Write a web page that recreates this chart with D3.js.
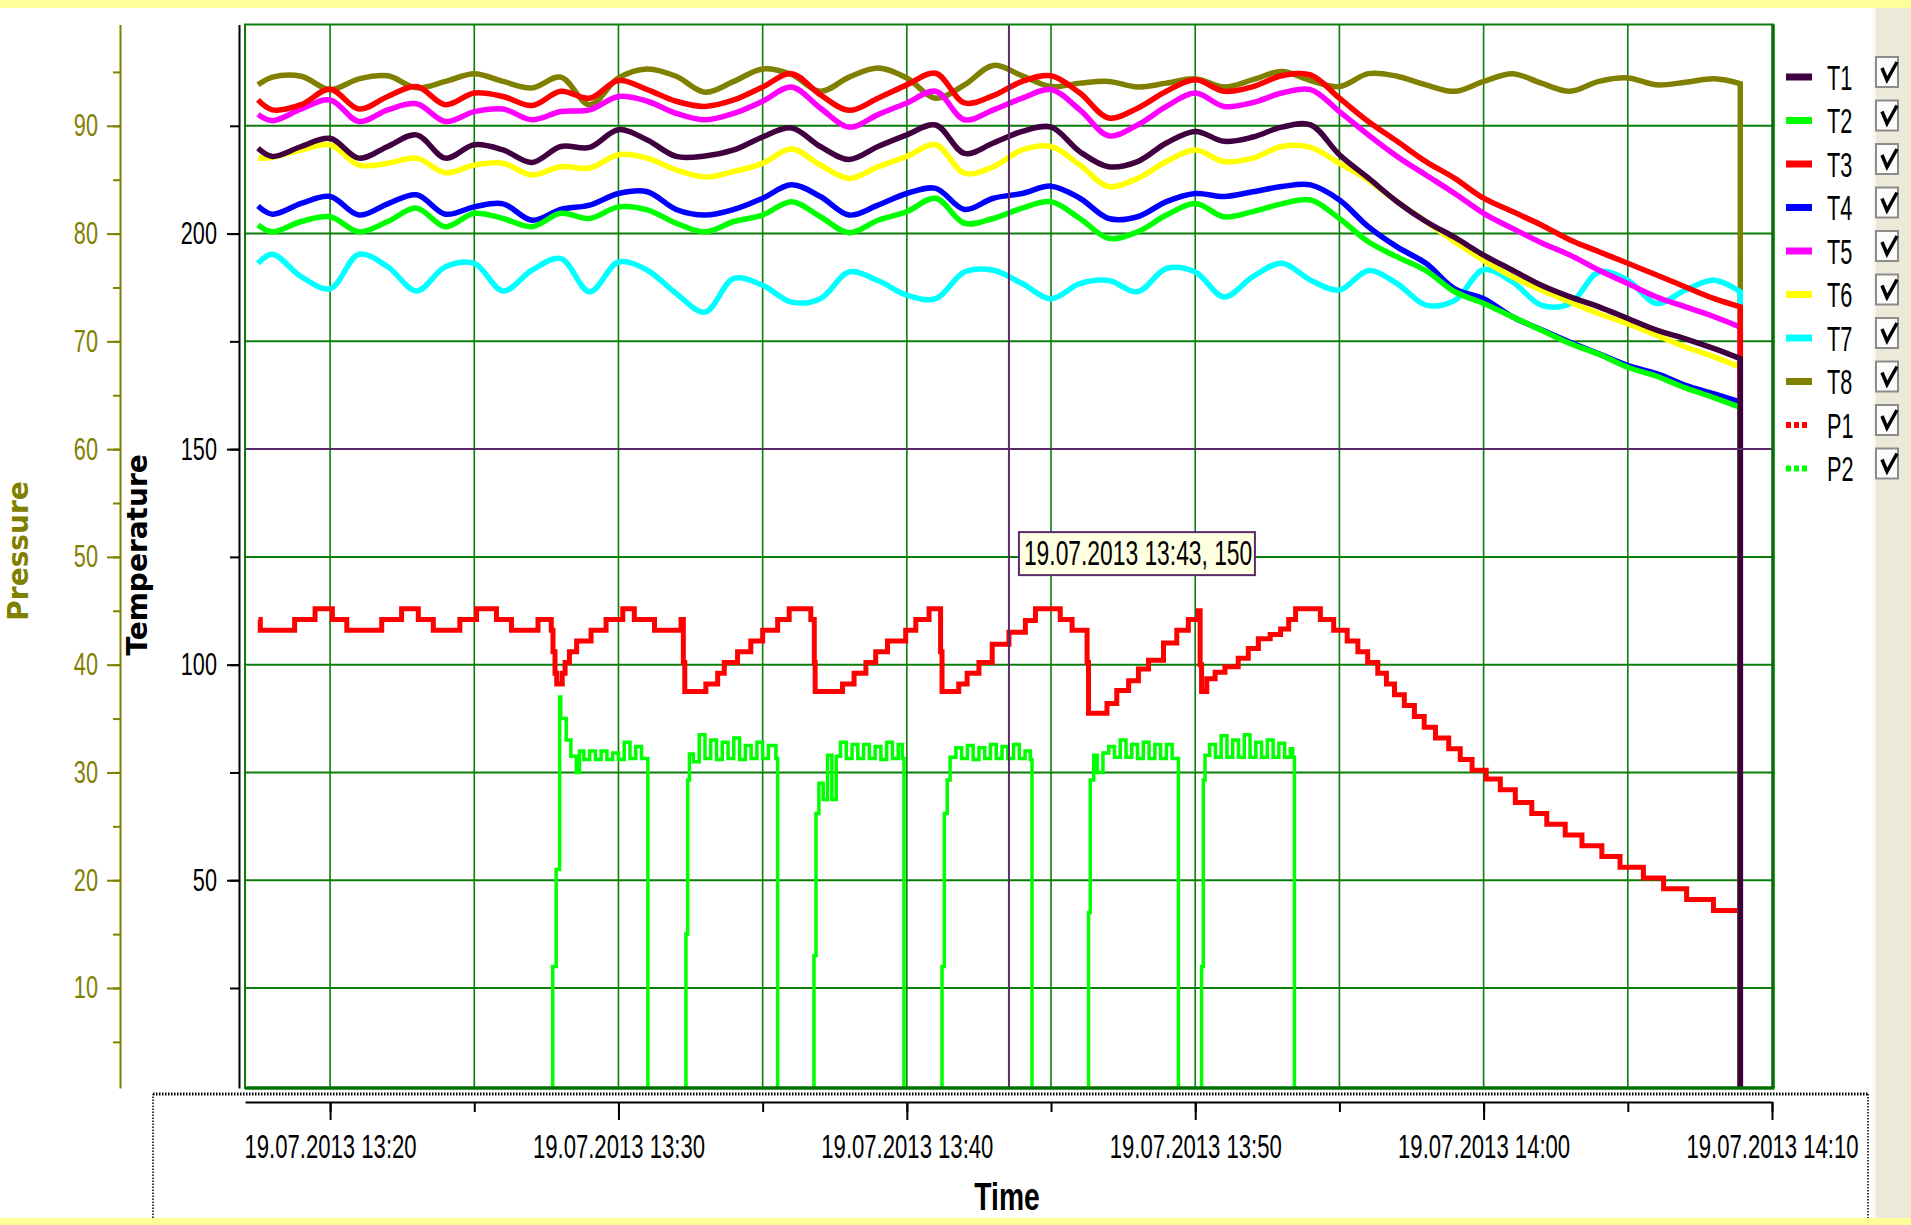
<!DOCTYPE html>
<html>
<head>
<meta charset="utf-8">
<script src="https://cdn.jsdelivr.net/npm/d3@7"></script>
<style>
  body { margin: 0; background: #ffffff; }
  svg { display: block; font-family: "Liberation Sans", Arial, sans-serif; }
</style>
</head>
<body>
<div id="chart"></div>
<script>
// Reading times, minutes after 13:00 (last time twice: every T line falls to 0 at the end)
var tempMinutes = [17.5, 18, 19, 20, 21, 22, 23, 24, 25, 26, 27, 28, 29, 30, 31, 32, 33, 34, 35,
  36, 37, 38, 39, 40, 41, 42, 43, 44, 45, 46, 47, 48, 49, 50, 51, 52,
  53, 54, 55, 56, 57, 58, 59, 60, 61, 62, 63, 64, 65, 66, 67, 68, 68.9, 68.9];

// Temperatures
var t1 = [219.8, 217.9, 220.2, 222.1, 217.5, 220.2, 222.9, 217.5, 220.6, 219.4, 216.5, 220.2, 220.0, 224.1, 221.7, 217.9, 218.0, 219.4, 222.4,
  224.5, 220.2, 217.2, 220.2, 222.9, 225.2, 218.6, 221.0, 223.7, 224.7, 219.0, 215.5, 216.7, 221.0, 223.7, 221.4, 222.4,
  224.7, 225.2, 218.3, 212.9, 207.4, 202.8, 199.1, 195.0, 191.5, 188.0, 185.3, 183.0, 180.3, 177.6, 175.6, 173.3, 171.0, 0];
var t2 = [202.0, 200.4, 202.8, 203.9, 200.4, 202.8, 205.9, 201.6, 204.7, 203.5, 201.6, 204.7, 203.5, 206.2, 205.5, 202.4, 200.4, 202.8, 204.3,
  207.4, 203.9, 200.2, 203.1, 205.1, 208.2, 202.4, 203.5, 205.9, 207.4, 203.5, 198.9, 200.4, 204.3, 207.0, 203.9, 205.1,
  206.9, 207.8, 203.5, 198.1, 194.6, 191.4, 186.5, 183.8, 180.7, 177.6, 174.5, 172.0, 169.0, 166.9, 164.2, 161.9, 159.7, 0];
var t3 = [231.0, 228.7, 229.9, 233.5, 228.9, 231.8, 234.1, 229.9, 232.6, 231.8, 229.7, 233.0, 231.4, 235.5, 233.4, 230.7, 229.5, 231.0, 234.0,
  237.1, 232.2, 228.6, 231.4, 234.5, 237.2, 230.3, 232.0, 235.3, 236.6, 232.6, 226.8, 229.1, 233.0, 235.7, 233.0, 234.1,
  236.6, 236.8, 231.4, 226.0, 221.4, 216.7, 212.8, 208.2, 205.1, 202.0, 198.5, 195.8, 193.1, 190.4, 187.6, 184.9, 183.0, 0];
var t4 = [206.4, 204.5, 207.0, 208.6, 204.3, 206.9, 209.0, 204.5, 206.2, 206.9, 203.1, 205.6, 206.6, 209.3, 209.7, 205.6, 204.3, 205.6, 208.2,
  211.3, 208.6, 204.3, 206.6, 209.3, 210.5, 205.6, 208.2, 209.3, 211.0, 208.2, 203.5, 203.9, 207.4, 209.3, 208.6, 209.7,
  210.9, 211.3, 207.8, 201.6, 196.9, 193.1, 187.2, 184.9, 180.7, 177.7, 174.8, 172.1, 169.4, 167.5, 164.8, 162.8, 160.9, 0];
var t5 = [227.6, 226.2, 228.9, 231.0, 226.0, 228.7, 230.1, 226.0, 228.3, 228.9, 226.4, 228.3, 228.7, 231.8, 230.7, 227.9, 226.4, 227.9, 230.7,
  234.0, 229.1, 224.7, 227.6, 230.3, 233.0, 226.4, 228.7, 231.4, 233.4, 228.7, 222.7, 225.2, 229.5, 232.6, 229.5, 230.4,
  232.6, 233.4, 228.3, 222.9, 217.9, 213.6, 209.3, 204.7, 201.2, 197.9, 195.0, 191.5, 188.4, 185.3, 183.0, 180.7, 178.3, 0];
var t6 = [217.5, 217.7, 219.4, 220.6, 215.9, 216.3, 217.5, 214.1, 215.9, 216.3, 213.6, 215.5, 215.2, 218.3, 217.5, 214.8, 213.1, 214.4, 216.3,
  219.6, 215.9, 212.8, 215.5, 217.9, 220.6, 214.0, 215.5, 219.4, 220.2, 215.9, 210.9, 212.8, 216.7, 219.4, 216.7, 217.5,
  220.2, 220.0, 216.3, 212.4, 207.4, 202.8, 198.1, 193.8, 190.0, 186.9, 184.1, 181.4, 179.1, 176.4, 173.7, 171.4, 169.0, 0];
var t7 = [193.1, 195.2, 190.0, 187.2, 195.2, 192.3, 186.7, 192.3, 193.1, 186.7, 191.5, 194.2, 186.5, 193.4, 191.5, 186.1, 181.8, 189.6, 188.0,
  184.1, 184.9, 191.1, 189.1, 185.7, 184.9, 191.1, 191.5, 188.4, 184.9, 188.4, 189.1, 186.5, 191.9, 191.1, 185.3, 190.0,
  193.1, 189.2, 186.9, 191.4, 188.4, 183.4, 184.5, 191.6, 188.8, 183.4, 183.8, 191.1, 189.2, 183.8, 186.9, 189.2, 186.5, 0];
var t8 = [234.5, 236.3, 236.5, 233.4, 235.9, 236.6, 233.8, 235.3, 237.1, 235.3, 233.8, 236.3, 229.9, 236.1, 238.2, 236.5, 232.8, 235.3, 238.2,
  236.9, 233.0, 236.3, 238.4, 236.1, 231.4, 234.5, 239.0, 236.6, 234.1, 234.9, 235.3, 234.0, 234.9, 235.9, 234.0, 235.7,
  237.6, 235.5, 234.1, 237.1, 236.5, 234.5, 233.0, 235.3, 237.1, 234.9, 233.0, 235.3, 236.1, 234.5, 235.1, 235.9, 234.8, 0];

// Pressure P1 [minute, bar], held until the next reading
var p1Readings = [[17.52, 44.2], [17.58, 43.2], [18.77, 44.2], [19.48, 45.2], [20.08, 44.2], [20.58, 43.2], [21.79, 44.2],
  [22.48, 45.2], [23.06, 44.2], [23.58, 43.2], [24.5, 44.2], [25.08, 45.2], [25.77, 44.2], [26.29, 43.2], [27.21, 44.2],
  [27.67, 43.2], [27.73, 41.2], [27.8, 39.2], [27.86, 38.2], [28.05, 39.2], [28.15, 40.2], [28.3, 41.2], [28.55, 42.2],
  [29.05, 43.2], [29.57, 44.2], [30.15, 45.2], [30.55, 44.2], [31.25, 43.2], [32.17, 44.2], [32.25, 40.2], [32.3, 37.5],
  [33.03, 38.2], [33.44, 39.2], [33.67, 40.2], [34.13, 41.2], [34.59, 42.2], [35.0, 43.2], [35.52, 44.2], [35.92, 45.2],
  [36.67, 44.2], [36.79, 40.2], [36.82, 37.5], [37.77, 38.2], [38.17, 39.2], [38.58, 40.2], [38.92, 41.2], [39.33, 42.2],
  [39.96, 43.2], [40.31, 44.2], [40.77, 45.2], [41.17, 41.2], [41.22, 37.5], [41.8, 38.2], [42.09, 39.2], [42.5, 40.2],
  [42.96, 41.9], [43.54, 43.0], [44.11, 44.1], [44.46, 45.2], [45.32, 44.2], [45.73, 43.2], [46.25, 40.2], [46.3, 35.5],
  [46.94, 36.4], [47.28, 37.6], [47.69, 38.5], [48.03, 39.6], [48.38, 40.4], [48.9, 42.0], [49.36, 43.2], [49.76, 44.2],
  [50.11, 45.0], [50.17, 40.0], [50.22, 37.5], [50.4, 38.7], [50.69, 39.3], [51.03, 39.8], [51.49, 40.6], [51.84, 41.5],
  [52.19, 42.4], [52.6, 42.8], [52.96, 43.3], [53.24, 44.2], [53.48, 45.2], [54.34, 44.2], [54.8, 43.2], [55.27, 42.2],
  [55.64, 41.2], [55.98, 40.2], [56.33, 39.2], [56.63, 38.2], [56.91, 37.2], [57.25, 36.2], [57.6, 35.2], [57.94, 34.2],
  [58.33, 33.2], [58.79, 32.2], [59.19, 31.2], [59.6, 30.2], [60.09, 29.4], [60.58, 28.4], [61.1, 27.2], [61.67, 26.2],
  [62.19, 25.2], [62.83, 24.2], [63.41, 23.2], [64.1, 22.2], [64.73, 21.2], [65.54, 20.2], [66.24, 19.2], [67.04, 18.2],
  [67.97, 17.2], [68.83, 17.2]];

// Pressure P2 [minute, bar]
var p2Readings = [[17.52, 0], [27.65, 0], [27.72, 12], [27.84, 21], [27.96, 37], [28.0, 35], [28.19, 33], [28.35, 31.5],
  [28.54, 30], [28.65, 32], [28.8, 31.2], [29.0, 32.0], [29.2, 31.2], [29.4, 32.0], [29.6, 31.2], [29.8, 31.8], [30.0, 31.2],
  [30.2, 32.8], [30.4, 31.3], [30.6, 32.4], [30.8, 31.3], [30.96, 31.3], [31.02, 0],
  [32.28, 0], [32.34, 15], [32.4, 29.3], [32.46, 31.7], [32.6, 31.0], [32.8, 33.5], [33.0, 31.3], [33.2, 33.0], [33.4, 31.2],
  [33.6, 32.8], [33.8, 31.3], [34.0, 33.2], [34.2, 31.2], [34.4, 32.5], [34.6, 31.3], [34.8, 32.8], [35.0, 31.3], [35.2, 32.5],
  [35.46, 31.3], [35.52, 0],
  [36.73, 0], [36.78, 13], [36.85, 26.2], [36.95, 29], [37.1, 27.5], [37.25, 31.6], [37.4, 27.5], [37.55, 31.5], [37.7, 32.8],
  [37.9, 31.3], [38.1, 32.6], [38.3, 31.3], [38.5, 32.6], [38.7, 31.3], [38.9, 32.4], [39.1, 31.2], [39.3, 32.8], [39.5, 31.3],
  [39.7, 32.6], [39.84, 31.3], [39.9, 0],
  [41.17, 0], [41.22, 12], [41.3, 26.2], [41.4, 29.3], [41.5, 31.4], [41.7, 32.3], [41.9, 31.3], [42.1, 32.5], [42.3, 31.2],
  [42.5, 32.3], [42.7, 31.3], [42.9, 32.6], [43.1, 31.3], [43.3, 32.4], [43.5, 31.3], [43.7, 32.6], [43.9, 31.3], [44.1, 32.0],
  [44.28, 31.2], [44.34, 0],
  [46.25, 0], [46.3, 17], [46.36, 29.3], [46.48, 31.6], [46.6, 30.0], [46.8, 31.8], [47.0, 32.4], [47.2, 31.4], [47.4, 33.0],
  [47.6, 31.4], [47.8, 32.6], [48.0, 31.3], [48.2, 32.8], [48.4, 31.3], [48.6, 32.6], [48.8, 31.3], [49.0, 32.6], [49.2, 31.3],
  [49.36, 31.3], [49.42, 0],
  [50.17, 0], [50.22, 12], [50.28, 29.3], [50.34, 31.6], [50.5, 32.6], [50.7, 31.4], [50.9, 33.4], [51.1, 31.4], [51.3, 33.0],
  [51.5, 31.4], [51.7, 33.5], [51.9, 31.4], [52.1, 32.8], [52.3, 31.4], [52.5, 33.0], [52.7, 31.4], [52.9, 32.7], [53.1, 31.4],
  [53.3, 32.2], [53.38, 31.4], [53.44, 0], [68.83, 0]];

// Legend names and colours
var seriesNames = ["T1", "T2", "T3", "T4", "T5", "T6", "T7", "T8", "P1", "P2"];
var seriesColors = ["#400040", "#00ff00", "#ff0000", "#0000ff", "#ff00ff", "#ffff00", "#00ffff", "#808000", "#ff0000", "#00ff00"];

// Axis ticks
var pressureLabels = [10, 20, 30, 40, 50, 60, 70, 80, 90];
var temperatureLabels = [50, 100, 150, 200];

// Cursor
var cursorMinute = 43.54;
var cursorTemperature = 150;
var cursorText = "19.07.2013 13:43, 150";

// Define svg dimension and plot box
var svgWidth = 1911;
var svgHeight = 1225;
var plotLeft = 245;
var plotRight = 1773;
var plotTop = 24.5;
var plotBottom = 1088;

var svg = d3.select("#chart")
  .append("svg")
  .attr("width", svgWidth)
  .attr("height", svgHeight);

// Background: yellow window edges and grey side panel
svg.append("rect").attr("x", 0).attr("y", 0).attr("width", svgWidth).attr("height", 8).attr("fill", "#ffff99");
svg.append("rect").attr("x", 0).attr("y", 1218).attr("width", svgWidth).attr("height", 7).attr("fill", "#ffff99");
svg.append("rect").attr("x", 1873).attr("y", 8).attr("width", 38).attr("height", 1210).attr("fill", "#ece9d8");
svg.append("rect").attr("x", 1873).attr("y", 8).attr("width", 3).attr("height", 1210).attr("fill", "#f8f7f2");

// Scales
function minuteToDate(m) {
  return new Date(2013, 6, 19, 13, 0, 0, Math.round(m * 60000));
}

var xTime = d3.scaleTime()
  .domain([minuteToDate(17.05), minuteToDate(70)])
  .range([plotLeft, 1772]);

var yTemp = d3.scaleLinear()
  .domain([1.8, 248.5])
  .range([plotBottom, plotTop]);

var yPress = d3.scaleLinear()
  .domain([0.72, 99.4])
  .range([plotBottom, plotTop]);

// squeezed text (the program uses a narrow bitmap font)
function narrowText(parent, x, y, str, size, sx, anchor) {
  return parent.append("g")
    .attr("transform", `translate(${x},${y}) scale(${sx},1)`)
    .append("text")
    .attr("text-anchor", anchor || "start")
    .attr("font-size", size)
    .text(str);
}

// Grid
var grid = svg.append("g");
grid.selectAll("line.h")
  .data(d3.range(25, 226, 25).filter(d => d !== cursorTemperature))
  .enter()
  .append("line")
  .attr("x1", plotLeft).attr("x2", plotRight)
  .attr("y1", d => yTemp(d)).attr("y2", d => yTemp(d))
  .attr("stroke", "#0b7d0b")
  .attr("stroke-width", 2);

grid.selectAll("line.v")
  .data(d3.timeMinute.every(5).range(minuteToDate(20), minuteToDate(66)))
  .enter()
  .append("line")
  .attr("x1", d => xTime(d)).attr("x2", d => xTime(d))
  .attr("y1", plotTop).attr("y2", plotBottom)
  .attr("stroke", "#0b7d0b")
  .attr("stroke-width", 1.6);

// Clip lines to the plot
svg.append("clipPath").attr("id", "plotClip")
  .append("rect")
  .attr("x", plotLeft).attr("y", plotTop)
  .attr("width", plotRight - plotLeft).attr("height", plotBottom - plotTop);

var lines = svg.append("g").attr("clip-path", "url(#plotClip)");

var pressureStepLine = d3.line()
  .x(d => xTime(minuteToDate(d[0])))
  .y(d => yPress(d[1]))
  .curve(d3.curveStepAfter);

var tempLine = d3.line()
  .x((d, i) => xTime(minuteToDate(tempMinutes[i])))
  .y(d => yTemp(d))
  .curve(d3.curveCatmullRom.alpha(0.5));

// smooth body, then a straight drop for the last reading
function tempPath(values) {
  var n = values.length;
  var endX = xTime(minuteToDate(tempMinutes[n - 1]));
  var endY = yTemp(values[n - 1]);
  return tempLine(values.slice(0, n - 1)) + `L${endX},${endY}`;
}

// Draw P2, P1 and T8 .. T1 so that T1 ends up on top
lines.append("path")
  .attr("d", pressureStepLine(p2Readings))
  .attr("fill", "none")
  .attr("stroke", seriesColors[9])
  .attr("stroke-width", 3.5);

lines.append("path")
  .attr("d", pressureStepLine(p1Readings))
  .attr("fill", "none")
  .attr("stroke", seriesColors[8])
  .attr("stroke-width", 5);

var tempSeries = [t1, t2, t3, t4, t5, t6, t7, t8];
for (var i = tempSeries.length - 1; i >= 0; i--) {
  lines.append("path")
    .attr("d", tempPath(tempSeries[i]))
    .attr("fill", "none")
    .attr("stroke", seriesColors[i])
    .attr("stroke-width", 5.5);
}

// Cursor cross
var cursorX = xTime(minuteToDate(cursorMinute));
svg.append("line")
  .attr("x1", cursorX).attr("x2", cursorX)
  .attr("y1", plotTop).attr("y2", plotBottom)
  .attr("stroke", "#5b2a6b").attr("stroke-width", 2);
svg.append("line")
  .attr("x1", plotLeft).attr("x2", plotRight)
  .attr("y1", yTemp(cursorTemperature)).attr("y2", yTemp(cursorTemperature))
  .attr("stroke", "#5b2a6b").attr("stroke-width", 2);

// Plot frame
svg.append("rect")
  .attr("x", plotLeft).attr("y", plotTop)
  .attr("width", plotRight - plotLeft).attr("height", plotBottom - plotTop)
  .attr("fill", "none")
  .attr("stroke", "#0b7d0b")
  .attr("stroke-width", 2);
svg.append("line").attr("x1", plotLeft).attr("x2", plotRight + 1.5).attr("y1", plotBottom).attr("y2", plotBottom)
  .attr("stroke", "#007000").attr("stroke-width", 3.5);
svg.append("line").attr("x1", plotRight).attr("x2", plotRight).attr("y1", plotTop).attr("y2", plotBottom)
  .attr("stroke", "#007000").attr("stroke-width", 3.5);

// Tooltip
svg.append("rect")
  .attr("x", cursorX + 10).attr("y", yTemp(cursorTemperature) + 83)
  .attr("width", 236).attr("height", 43)
  .attr("fill", "#ffffe1")
  .attr("stroke", "#5b2a6b")
  .attr("stroke-width", 2);
narrowText(svg, cursorX + 15, yTemp(cursorTemperature) + 116, cursorText, 35, 0.652)
  .attr("fill", "#000");

// Temperature axis
var tempAxisGroup = svg.append("g").attr("transform", "translate(239,0)");
tempAxisGroup.append("g")
  .call(d3.axisLeft(yTemp).tickValues(d3.range(25, 226, 25)).tickSize(9).tickSizeOuter(0).tickFormat(""));
tempAxisGroup.append("g")
  .call(d3.axisLeft(yTemp).tickValues(temperatureLabels).tickSize(12).tickSizeOuter(0))
  .call(g => g.select(".domain").remove());
tempAxisGroup.selectAll("path, line").attr("stroke", "#000").attr("stroke-width", 2);
tempAxisGroup.selectAll("text")
  .attr("font-family", "Liberation Sans, Arial, sans-serif")
  .attr("font-size", 31)
  .attr("fill", "#000")
  .attr("x", -22 / 0.7)
  .attr("transform", "scale(0.7,1)");

// Pressure axis
var pressAxisGroup = svg.append("g").attr("transform", "translate(120,0)");
pressAxisGroup.append("g")
  .call(d3.axisLeft(yPress).tickValues(d3.range(5, 96, 5)).tickSize(7).tickSizeOuter(0).tickFormat(""));
pressAxisGroup.append("g")
  .call(d3.axisLeft(yPress).tickValues(pressureLabels).tickSize(13).tickSizeOuter(0))
  .call(g => g.select(".domain").remove());
pressAxisGroup.selectAll("path, line").attr("stroke", "#808000").attr("stroke-width", 2);
pressAxisGroup.selectAll("text")
  .attr("font-family", "Liberation Sans, Arial, sans-serif")
  .attr("font-size", 31)
  .attr("fill", "#808000")
  .attr("x", -22 / 0.7)
  .attr("transform", "scale(0.7,1)");

// Time axis
var timeAxisGroup = svg.append("g").attr("transform", "translate(0,1102)");
timeAxisGroup.append("g")
  .call(d3.axisBottom(xTime).ticks(d3.timeMinute.every(5)).tickSize(10).tickSizeOuter(0).tickFormat(""));
timeAxisGroup.append("g")
  .call(d3.axisBottom(xTime).ticks(d3.timeMinute.every(10)).tickSize(18).tickSizeOuter(0).tickPadding(14)
    .tickFormat(d3.timeFormat("%d.%m.%Y %H:%M")))
  .call(g => g.select(".domain").remove());
timeAxisGroup.selectAll("path, line").attr("stroke", "#000").attr("stroke-width", 2);
timeAxisGroup.selectAll("text")
  .attr("font-family", "Liberation Sans, Arial, sans-serif")
  .attr("font-size", 33.5)
  .attr("fill", "#000")
  .attr("transform", "scale(0.66,1)");

// Dotted frame round the time axis
svg.append("path")
  .attr("d", "M153,1218 V1094 M1868,1094 V1218")
  .attr("fill", "none").attr("stroke", "#000").attr("stroke-width", 1.5).attr("stroke-dasharray", "1.5,1.5");
svg.append("line")
  .attr("x1", 153).attr("x2", 1868).attr("y1", 1094).attr("y2", 1094)
  .attr("stroke", "#000").attr("stroke-width", 3).attr("stroke-dasharray", "1.5,1.5");

// Axis titles
svg.append("text")
  .attr("transform", "translate(28,551) rotate(-90)")
  .attr("text-anchor", "middle")
  .attr("font-family", "DejaVu Sans, sans-serif")
  .attr("font-weight", "bold")
  .attr("font-size", 28)
  .attr("fill", "#808000")
  .text("Pressure");

svg.append("text")
  .attr("transform", "translate(147,555) rotate(-90)")
  .attr("text-anchor", "middle")
  .attr("font-family", "DejaVu Sans, sans-serif")
  .attr("font-weight", "bold")
  .attr("font-size", 28)
  .attr("fill", "#000")
  .text("Temperature");

narrowText(svg, 1007, 1210, "Time", 39, 0.725, "middle")
  .attr("font-weight", "bold")
  .attr("fill", "#000");

// Legend with check boxes
var legendTop = 77;
var legendStep = 43.5;
var legend = svg.append("g");
seriesNames.forEach(function(name, i) {
  var ly = legendTop + i * legendStep;
  var isPressure = name.charAt(0) === "P";
  legend.append("line")
    .attr("x1", 1786).attr("x2", isPressure ? 1807 : 1812)
    .attr("y1", ly).attr("y2", ly)
    .attr("stroke", seriesColors[i])
    .attr("stroke-width", isPressure ? 6 : 7)
    .attr("stroke-dasharray", isPressure ? "5,3" : null);
  narrowText(legend, 1827, ly + 12.5, name, 35, 0.62).attr("fill", "#000");
  legend.append("rect")
    .attr("x", 1876).attr("y", ly - 20)
    .attr("width", 22).attr("height", 30)
    .attr("fill", "#fbfbf9")
    .attr("stroke", "#8c8c8c")
    .attr("stroke-width", 2);
  legend.append("path")
    .attr("d", `M1882,${ly - 9} L1887,${ly + 3} L1897,${ly - 15}`)
    .attr("fill", "none")
    .attr("stroke", "#000")
    .attr("stroke-width", 3.5);
});
</script>
</body>
</html>
